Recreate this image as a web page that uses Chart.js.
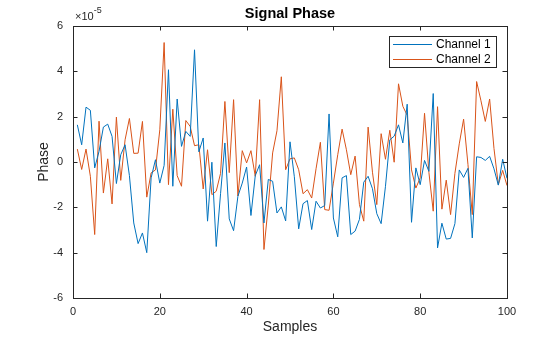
<!DOCTYPE html>
<html>
<head>
<meta charset="utf-8">
<script src="https://cdn.jsdelivr.net/npm/chart.js@4"></script>
<style>
  html, body { margin: 0; padding: 0; background: #fff; }
  #wrap { width: 560px; height: 337px; }
</style>
</head>
<body>
<div id="wrap"><canvas id="chart" width="560" height="337"></canvas></div>
<script>
// ---- data (phase values in units of 1e-5) ----
const samples = Array.from({ length: 100 }, (_, i) => i + 1);
const channel1 = [
   1.64,  0.76,  2.42,  2.28, -0.26,  0.47,  1.54,  1.67,  1.13, -0.95,
   0.32,  0.76, -0.60, -2.69, -3.60, -3.13, -4.00, -0.70,  0.10, -0.93,
  -0.15,  4.07, -1.07,  2.78,  0.69,  1.35,  1.13,  4.95,  0.45,  1.06,
  -2.61, -0.01, -3.73, -1.40,  0.84, -2.51, -3.03, -1.51, -0.93, -0.22,
  -2.36, -0.60, -0.12, -2.69, -0.77, -0.85, -2.25, -1.98, -2.60,  0.89,
  -0.65, -2.95, -1.84, -1.70, -2.98, -1.73, -2.03, -1.92,  2.12, -2.47,
  -3.30, -0.70, -0.60, -3.20, -3.05, -2.53, -0.89, -0.63, -1.18, -2.28,
  -2.72, -1.07,  0.98,  1.14,  1.64,  0.84,  2.55, -2.66, -0.26, -1.00,
   0.07, -0.41,  3.02, -3.79, -2.70, -3.40, -3.37, -2.72, -0.35, -0.68,
  -0.28, -3.35,  0.23,  0.20,  0.07,  0.25, -0.30, -1.02,  0.12, -0.72
];
const channel2 = [
   0.57, -0.33,  0.57, -0.63, -3.20,  1.80, -1.37,  0.14, -1.85,  1.98,
  -0.81,  0.98,  1.92,  0.38,  0.39,  1.79, -1.55, -0.48, -0.35,  1.42,
   5.27, -1.00,  2.33, -0.60, -1.07,  1.83,  1.57,  0.72,  0.76, -1.19,
   0.54, -1.44, -1.29, -0.50,  2.67, -0.47,  2.75, -1.50,  0.50, -0.04,
   0.50, -0.63,  2.75, -3.86, -1.90,  0.40,  1.38,  3.76, -0.34,  0.14,
   0.18, -0.34, -1.40, -1.22, -1.59, -0.30,  0.87, -2.10, -2.13, -0.93,
   0.32,  1.45,  0.54, -0.56,  0.26, -1.88, -2.61,  1.54, -0.45, -1.88,
   1.25,  0.12,  1.40, -0.01,  3.45,  2.46,  2.06, -0.35, -1.15, -0.70,
   2.15, -0.45, -2.17,  2.44, -2.08, -0.80, -2.32, -0.50,  0.80,  1.89,
  -0.10, -2.32,  3.55,  2.70,  1.79,  2.78,  0.60, -1.00, -0.37, -1.04
];
const seriesNames = ["Channel 1", "Channel 2"];
const seriesColors = ["#0072BD", "#D95319"];
const xTicks = [0, 20, 40, 60, 80, 100];
const yTicks = [-6, -4, -2, 0, 2, 4, 6];
const titleText = "Signal Phase";
const xLabel = "Samples";
const yLabel = "Phase";

const FONT = "'Liberation Sans', Arial, sans-serif";
const AXIS = "#262626";

// MATLAB-like frame, inward ticks, labels, legend
const matlabDecor = {
  id: 'matlabDecor',
  afterDraw(chart) {
    const { ctx, chartArea: a, scales } = chart;
    ctx.save();
    ctx.strokeStyle = AXIS;
    ctx.lineWidth = 1;
    ctx.strokeRect(Math.round(a.left) + 0.5, Math.round(a.top) + 0.5,
                   Math.round(a.right - a.left), Math.round(a.bottom - a.top));
    const tl = 4.5;
    ctx.beginPath();
    xTicks.forEach(v => {
      const px = Math.round(scales.x.getPixelForValue(v)) + 0.5;
      ctx.moveTo(px, a.bottom); ctx.lineTo(px, a.bottom - tl);
      ctx.moveTo(px, a.top); ctx.lineTo(px, a.top + tl);
    });
    yTicks.forEach(v => {
      const py = Math.round(scales.y.getPixelForValue(v)) + 0.5;
      ctx.moveTo(a.left, py); ctx.lineTo(a.left + tl, py);
      ctx.moveTo(a.right, py); ctx.lineTo(a.right - tl, py);
    });
    ctx.stroke();

    // title + axis labels
    ctx.fillStyle = "#000";
    ctx.textAlign = 'center';
    ctx.textBaseline = 'middle';
    ctx.font = "bold 14.5px " + FONT;
    ctx.fillText(titleText, (a.left + a.right) / 2, 14);
    ctx.fillStyle = AXIS;
    ctx.font = "14px " + FONT;
    ctx.fillText(xLabel, (a.left + a.right) / 2, 327);
    ctx.save();
    ctx.translate(44, (a.top + a.bottom) / 2);
    ctx.rotate(-Math.PI / 2);
    ctx.fillText(yLabel, 0, 0);
    ctx.restore();

    // exponent label
    ctx.textAlign = 'left';
    ctx.textBaseline = 'alphabetic';
    ctx.font = "11px " + FONT;
    ctx.fillText("\u00d710", 75, 19.5);
    const w = ctx.measureText("\u00d710").width;
    ctx.font = "9px " + FONT;
    ctx.fillText("-5", 75 + w, 13);

    // legend
    const lx = 389.5, ly = 36.5, lw = 107, lh = 31;
    ctx.fillStyle = "#fff";
    ctx.fillRect(lx, ly, lw, lh);
    ctx.strokeStyle = AXIS;
    ctx.strokeRect(lx, ly, lw, lh);
    ctx.font = "12px " + FONT;
    ctx.textBaseline = 'middle';
    seriesNames.forEach((name, i) => {
      const yy = 44.5 + i * 15;
      ctx.strokeStyle = seriesColors[i];
      ctx.beginPath(); ctx.moveTo(393, yy); ctx.lineTo(432, yy); ctx.stroke();
      ctx.fillStyle = "#000";
      ctx.fillText(name, 436, yy);
    });
    ctx.restore();
  }
};

new Chart(document.getElementById('chart'), {
  type: 'line',
  data: {
    datasets: [channel1, channel2].map((vals, k) => ({
      label: seriesNames[k],
      data: vals.map((v, i) => ({ x: samples[i], y: v })),
      borderColor: seriesColors[k],
      borderWidth: 1,
      pointRadius: 0,
      fill: false,
      tension: 0
    }))
  },
  options: {
    responsive: false,
    animation: false,
    layout: { padding: { left: 0, top: 26, right: 53, bottom: 0 } },
    plugins: { legend: { display: false }, title: { display: false }, tooltip: { enabled: false } },
    scales: {
      x: {
        type: 'linear', min: 0, max: 100,
        afterFit: s => { s.height = 39; },
        afterBuildTicks: s => { s.ticks = xTicks.map(v => ({ value: v })); },
        grid: { display: false, drawTicks: false },
        border: { display: false },
        ticks: { color: AXIS, padding: 7, maxRotation: 0, font: { family: FONT, size: 11 } }
      },
      y: {
        min: -6, max: 6,
        afterFit: s => { s.width = 73; },
        afterBuildTicks: s => { s.ticks = yTicks.map(v => ({ value: v })); },
        grid: { display: false, drawTicks: false },
        border: { display: false },
        ticks: { color: AXIS, padding: 10, font: { family: FONT, size: 11 } }
      }
    }
  },
  plugins: [matlabDecor]
});
</script>
</body>
</html>
